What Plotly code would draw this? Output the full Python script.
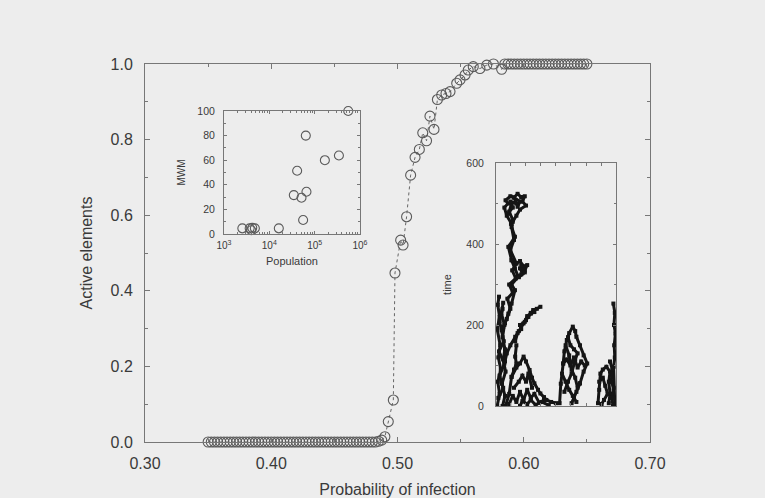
import plotly.graph_objects as go

# ---------------- data ----------------
# main curve: fraction of active elements vs probability of infection
low_x = [0.35, 0.3525, 0.355, 0.3575, 0.36, 0.3625, 0.365, 0.3675, 0.37, 0.3725,
         0.375, 0.3775, 0.38, 0.3825, 0.385, 0.3875, 0.39, 0.3925, 0.395, 0.3975,
         0.40, 0.4025, 0.405, 0.4075, 0.41, 0.4125, 0.415, 0.4175, 0.42, 0.4225,
         0.425, 0.4275, 0.43, 0.4325, 0.435, 0.4375, 0.44, 0.4425, 0.445, 0.4475,
         0.45, 0.4525, 0.455, 0.4575, 0.46, 0.4625, 0.465, 0.4675, 0.47, 0.4725,
         0.475, 0.4775, 0.48, 0.4825, 0.485, 0.4875]
low_y = [0.0] * 54 + [0.002, 0.005]
mid_x = [0.490, 0.4927, 0.4967, 0.498, 0.5025, 0.5044, 0.5072, 0.5104, 0.5139, 0.5173,
         0.520, 0.523, 0.5257, 0.5289, 0.5316, 0.535, 0.5384, 0.5416, 0.5469, 0.5495,
         0.5535, 0.556, 0.560, 0.5653, 0.5707, 0.576, 0.5825]
mid_y = [0.014, 0.054, 0.111, 0.447, 0.534, 0.521, 0.596, 0.706, 0.753, 0.774,
         0.818, 0.797, 0.862, 0.827, 0.906, 0.918, 0.922, 0.927, 0.949, 0.958,
         0.971, 0.984, 0.993, 0.988, 0.997, 1.0, 0.986]
high_x = [0.585, 0.5875, 0.59, 0.5925, 0.595, 0.5975, 0.60, 0.6025, 0.605, 0.6075,
          0.61, 0.6125, 0.615, 0.6175, 0.62, 0.6225, 0.625, 0.6275, 0.63, 0.6325,
          0.635, 0.6375, 0.64, 0.6425, 0.645, 0.6475, 0.65]
high_y = [1.0] * 27

main_x = low_x + mid_x + high_x
main_y = low_y + mid_y + high_y

# inset 1: MWM vs population
pop = [2540, 3690, 4200, 4800, 4000, 16200, 34700, 41100, 51300, 55700, 63800, 66000,
       168000, 343000, 551000]
mwm = [4.6, 4.6, 5.0, 4.6, 3.0, 4.6, 31.6, 51.4, 29.5, 11.4, 80.0, 34.3,
       60.0, 63.8, 100.0]

# inset 2: space-time clusters, each branch a polyline of (site position, time)
branches = [
    # tall branch: trunk
    ([4.7, 7.5, 10.3, 13.0, 15.8, 13.0, 18.6, 15.8, 13.0, 10.3, 15.8, 13.0, 14.0, 11.0, 13.0],
     [187, 204, 228, 253, 286, 300, 319, 340, 360, 393, 418, 442, 460, 480, 500]),
    ([6.0, 9.0, 12.0, 9.5, 14.0, 11.0, 16.5, 13.5, 17.0, 12.0, 15.0, 12.5],
     [195, 215, 240, 265, 280, 300, 315, 335, 352, 385, 410, 450]),
    ([13.0, 17.0, 20.0, 23.0, 26.0, 24.0, 21.0, 18.6],
     [360, 352, 358, 345, 348, 335, 325, 319]),
    ([20.0, 22.0, 19.0, 24.0, 21.0], [340, 328, 318, 330, 348]),
    # tall branch: top cluster
    ([13.0, 9.0, 7.0, 10.0, 8.0, 12.0, 15.0, 18.0, 21.0, 24.0, 22.0, 25.0, 20.0, 17.0, 14.0],
     [450, 470, 490, 500, 508, 518, 515, 524, 516, 518, 505, 495, 485, 470, 455]),
    ([10.0, 14.0, 12.0, 17.0, 15.0, 20.0, 18.0], [475, 490, 505, 500, 515, 505, 492]),
    # left column
    ([1.0, 3.0, 1.5, 4.0, 2.0, 3.5, 1.0, 3.0, 1.5, 2.5],
     [0, 30, 60, 90, 120, 150, 190, 220, 250, 270]),
    ([5.5, 7.5, 5.0, 8.0, 6.0, 7.5, 5.5, 7.0, 4.5, 6.0],
     [0, 25, 55, 85, 115, 140, 170, 200, 230, 255]),
    ([2.0, 6.0, 3.0, 7.0, 2.5, 6.5, 3.0, 5.5], [20, 45, 75, 105, 135, 160, 210, 240]),
    # branch up to the right
    ([7.5, 9.0, 12.0, 16.0, 19.0, 23.0, 25.0, 27.0, 29.0, 31.0, 34.0, 37.0],
     [110, 130, 150, 171, 185, 204, 212, 220, 230, 237, 240, 245]),
    ([16.0, 18.0, 21.0, 20.0, 24.0, 26.0, 29.0, 32.0], [160, 180, 190, 200, 208, 222, 228, 232]),
    # lower branches
    ([8.0, 11.0, 13.0, 15.0, 17.0, 16.0, 17.0], [0, 30, 72, 90, 105, 122, 150]),
    ([13.0, 17.0, 20.0, 23.0, 25.0, 28.0, 30.0, 32.0, 35.0, 37.0, 40.0, 42.0, 46.0, 50.0],
     [72, 95, 105, 122, 110, 89, 70, 56, 40, 31, 22, 15, 10, 7]),
    ([11.0, 14.0, 17.0, 20.0, 23.0, 26.0, 29.0, 32.0, 36.0, 40.0],
     [5, 25, 10, 35, 15, 40, 20, 30, 8, 15]),
    ([15.0, 19.0, 22.0, 25.0, 27.0, 30.0], [45, 60, 75, 60, 80, 45]),
    ([20.0, 22.0, 26.0, 29.0, 33.0, 38.0, 44.0], [0, 12, 5, 15, 3, 10, 2]),
    # middle cluster
    ([53.0, 54.0, 56.0, 57.0, 59.0, 61.0, 64.0, 66.0, 67.0, 70.0, 73.0, 76.0, 73.0, 70.0, 67.0, 65.0, 63.0],
     [7, 55, 105, 135, 163, 180, 196, 185, 171, 150, 125, 105, 85, 56, 35, 20, 7]),
    ([56.0, 59.0, 62.0, 65.0, 68.0, 71.0, 74.0], [105, 115, 100, 120, 95, 110, 100]),
    ([58.0, 61.0, 63.0, 66.0, 68.0, 70.0], [150, 125, 90, 70, 45, 56]),
    ([60.0, 62.0, 65.0, 68.0, 66.0, 63.0, 60.0, 57.0], [170, 150, 140, 130, 115, 80, 60, 35]),
    ([55.0, 58.0, 61.0, 64.0, 67.0], [80, 60, 40, 25, 10]),
    # right low cluster
    ([85.0, 86.0, 87.0, 89.0, 92.0, 95.0, 94.0, 95.0, 94.0],
     [7, 40, 80, 90, 97, 85, 60, 30, 7]),
    ([86.0, 89.0, 91.0, 93.0, 90.0, 88.0], [60, 70, 50, 30, 15, 5]),
    # right edge column
    ([97.8, 99.0, 98.3, 99.5, 98.5, 99.0, 98.0, 99.0],
     [253, 230, 200, 179, 150, 120, 97, 0]),
    ([95.0, 97.0, 96.0, 98.0, 96.5, 97.5], [110, 90, 60, 45, 20, 0]),
]

# tick labels
main_xticks = [0.30, 0.40, 0.50, 0.60, 0.70]
main_xtext = ["0.30", "0.40", "0.50", "0.60", "0.70"]
main_yticks = [0.0, 0.2, 0.4, 0.6, 0.8, 1.0]
main_ytext = ["0.0", "0.2", "0.4", "0.6", "0.8", "1.0"]
in1_xticks = [1e3, 1e4, 1e5, 1e6]
in1_xtext = ["10<sup>3</sup>", "10<sup>4</sup>", "10<sup>5</sup>", "10<sup>6</sup>"]
in1_yticks = [0, 20, 40, 60, 80, 100]
in2_yticks = [0, 200, 400, 600]

# ---------------- figure ----------------
FONT = "Liberation Sans, Arial, sans-serif"
TXT = "#3a3a3a"
AX = "#777777"
BG = "#ededed"

fig = go.Figure()

fig.add_trace(go.Scatter(
    x=main_x, y=main_y, mode="lines+markers",
    line=dict(color="#666666", width=1, dash="3px,3px"),
    marker=dict(symbol="circle-open", size=10, color="#5a5a5a", line=dict(width=1.1)),
    xaxis="x", yaxis="y", showlegend=False, cliponaxis=False))

fig.add_trace(go.Scatter(
    x=pop, y=mwm, mode="markers",
    marker=dict(symbol="circle-open", size=9, color="#5a5a5a", line=dict(width=1.1)),
    xaxis="x2", yaxis="y2", showlegend=False, cliponaxis=False))

for bx, bt in branches:
    fig.add_trace(go.Scatter(
        x=bx, y=bt, mode="lines+markers",
        line=dict(color="#151515", width=3),
        marker=dict(symbol="square", size=4, color="#151515"),
        xaxis="x3", yaxis="y3", showlegend=False))

common = dict(showline=True, linecolor=AX, linewidth=1, mirror="ticks", automargin=False,
              ticks="inside", tickcolor=AX, showgrid=False, zeroline=False)

fig.update_layout(
    width=765, height=498,
    margin=dict(l=145, r=115, t=64, b=56),
    paper_bgcolor=BG, plot_bgcolor="rgba(0,0,0,0)",
    font=dict(family=FONT, color=TXT),
    xaxis=dict(domain=[0, 1], range=[0.30, 0.70], tickvals=main_xticks, ticktext=main_xtext,
               ticklen=5, tickfont=dict(size=16), ticklabelstandoff=7,
               minor=dict(dtick=0.05, ticks="inside", ticklen=3, tickcolor=AX),
               title=dict(text="Probability of infection", font=dict(size=16), standoff=12),
               **common),
    yaxis=dict(domain=[0, 1], range=[0.0, 1.0], tickvals=main_yticks, ticktext=main_ytext,
               ticklen=5, tickfont=dict(size=16), ticklabelstandoff=8,
               minor=dict(dtick=0.1, ticks="inside", ticklen=3, tickcolor=AX),
               title=dict(text="Active elements", font=dict(size=16), standoff=13),
               **common),
    xaxis2=dict(domain=[0.1564, 0.4257], anchor="y2", type="log", range=[3, 6],
                tickvals=in1_xticks, ticktext=in1_xtext, ticklen=3,
                tickfont=dict(size=10), ticklabelstandoff=2,
                minor=dict(tickvals=[2e3, 3e3, 4e3, 5e3, 6e3, 7e3, 8e3, 9e3,
                                     2e4, 3e4, 4e4, 5e4, 6e4, 7e4, 8e4, 9e4,
                                     2e5, 3e5, 4e5, 5e5, 6e5, 7e5, 8e5, 9e5],
                           ticks="inside", ticklen=2, tickcolor=AX),
                title=dict(text="Population", font=dict(size=11), standoff=7),
                **common),
    yaxis2=dict(domain=[0.5503, 0.8757], anchor="x2", range=[0, 100],
                tickvals=in1_yticks, ticklen=3, tickfont=dict(size=10.5), ticklabelstandoff=6,
                minor=dict(dtick=10, ticks="inside", ticklen=2, tickcolor=AX),
                title=dict(text="MWM", font=dict(size=10), standoff=9),
                **common),
    xaxis3=dict(domain=[0.695, 0.9327], anchor="y3", range=[0, 100],
                dtick=12.5, tick0=0, ticklen=3, showticklabels=False,
                **common),
    yaxis3=dict(domain=[0.0952, 0.738], anchor="x3", range=[0, 600],
                tickvals=in2_yticks, ticklen=3, tickfont=dict(size=10.5), ticklabelstandoff=9,
                minor=dict(dtick=100, ticks="inside", ticklen=2, tickcolor=AX),
                title=dict(text="time", font=dict(size=11), standoff=12),
                **common),
)

fig.write_html("out.html")
